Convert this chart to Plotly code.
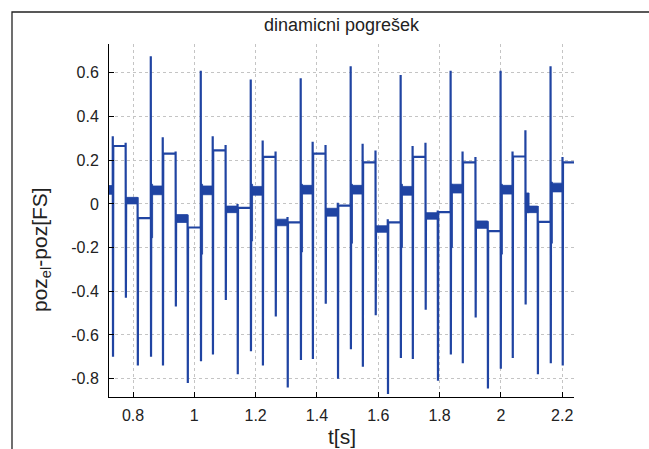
import plotly.graph_objects as go

# ---------------- data ----------------
# times of the switching edges [s]
t_edge = [0.734, 0.776, 0.815, 0.858, 0.897, 0.939, 0.978, 1.021, 1.060, 1.102,
          1.141, 1.184, 1.223, 1.265, 1.304, 1.347, 1.386, 1.428, 1.468, 1.510,
          1.549, 1.591, 1.631, 1.673, 1.712, 1.754, 1.794, 1.836, 1.875, 1.917,
          1.957, 1.999, 2.038, 2.080, 2.120, 2.162, 2.201]
# positive peak of the transient at each edge
spike_hi = [0.31, 0.28, 0.03, 0.676, 0.305, 0.24, -0.05, 0.61, 0.31, 0.27,
            0.0, 0.57, 0.29, 0.24, -0.06, 0.575, 0.285, 0.27, 0.005, 0.63,
            0.275, 0.245, -0.07, 0.59, 0.265, 0.28, -0.03, 0.61, 0.24, 0.215,
            -0.08, 0.61, 0.24, 0.337, -0.01, 0.63, 0.215]
# negative peak of the transient at each edge
spike_lo = [-0.70, -0.43, -0.74, -0.70, -0.74, -0.47, -0.82, -0.72, -0.69, -0.44,
            -0.78, -0.675, -0.74, -0.515, -0.84, -0.715, -0.71, -0.457, -0.80, -0.665,
            -0.745, -0.51, -0.87, -0.705, -0.71, -0.485, -0.81, -0.69, -0.73, -0.52,
            -0.845, -0.755, -0.705, -0.46, -0.78, -0.73, -0.74]
# settled error level after each edge
level = [0.265, 0.015, -0.065, 0.062, 0.23, -0.067, -0.108, 0.062, 0.245, -0.025,
         -0.018, 0.06, 0.215, -0.085, -0.085, 0.065, 0.23, -0.038, -0.008, 0.065,
         0.19, -0.115, -0.085, 0.06, 0.215, -0.055, -0.038, 0.07, 0.19, -0.095,
         -0.125, 0.065, 0.217, -0.025, -0.082, 0.075, 0.19]
# half width of the oscillation band around the level (0 = clean level)
band = [0, 0.015, 0, 0.02, 0, 0.018, 0, 0.02, 0, 0.015,
        0, 0.02, 0, 0.015, 0, 0.02, 0, 0.018, 0, 0.02,
        0, 0.015, 0, 0.02, 0, 0.015, 0, 0.02, 0, 0.017,
        0, 0.02, 0, 0.015, 0, 0.02, 0]
# short ringing burst right after an edge (None = none)
burst_hi = [None, None, None, 0.09, None, None, None, 0.09, None, None,
            None, 0.09, None, None, None, 0.09, None, None, None, 0.09,
            None, None, None, 0.09, None, None, None, 0.09, None, None,
            None, 0.09, None, 0.05, None, 0.1, None]
burst_lo = [None, None, None, -0.155, None, None, None, -0.23, None, None,
            None, -0.17, None, None, None, -0.22, None, None, None, -0.18,
            None, None, None, -0.2, None, None, None, -0.2, None, None,
            None, -0.23, None, -0.04, None, -0.18, None]
burst_dur = [0, 0, 0, 0.006, 0, 0, 0, 0.006, 0, 0,
             0, 0.006, 0, 0, 0, 0.006, 0, 0, 0, 0.006,
             0, 0, 0, 0.006, 0, 0, 0, 0.006, 0, 0,
             0, 0.006, 0, 0.012, 0, 0.006, 0]
level_start = 0.064
band_start = 0.02
t_range = [0.7217, 2.2385]
y_range = [-0.884, 0.732]

x_tickvals = [0.8, 1.0, 1.2, 1.4, 1.6, 1.8, 2.0, 2.2]
x_ticktext = ["0.8", "1", "1.2", "1.4", "1.6", "1.8", "2", "2.2"]
y_tickvals = [-0.8, -0.6, -0.4, -0.2, 0.0, 0.2, 0.4, 0.6]
y_ticktext = ["-0.8", "-0.6", "-0.4", "-0.2", "0", "0.2", "0.4", "0.6"]

title_text = "dinamicni pogrešek"
xlabel_text = "t[s]"
ylabel_text = "poz<sub>el</sub>-poz[FS]"

# ---------------- build the trace ----------------
BLUE = "#2044a2"
d = 0.0008
xs, ys = [t_range[0]], [level_start]
prev = level_start
for i, t in enumerate(t_edge):
    xs += [t, t, t + d, t + 2 * d]
    ys += [prev, spike_hi[i], spike_lo[i], level[i]]
    prev = level[i]
xs.append(t_range[1])
ys.append(prev)

bx, by = [], []
def rect(x0, x1, y0, y1):
    bx.extend([x0, x1, x1, x0, x0, None])
    by.extend([y0, y0, y1, y1, y0, None])

rect(t_range[0], t_edge[0], level_start - band_start, level_start + band_start)
for i, t in enumerate(t_edge):
    t_next = t_edge[i + 1] if i + 1 < len(t_edge) else t_range[1]
    if band[i] > 0:
        rect(t + 2 * d, t_next, level[i] - band[i], level[i] + band[i])
    if burst_lo[i] is not None:
        rect(t, t + burst_dur[i], burst_lo[i], burst_hi[i])

fig = go.Figure()
fig.add_trace(go.Scatter(x=bx, y=by, mode="lines", fill="toself",
                         fillcolor=BLUE, line=dict(color=BLUE, width=0.8),
                         hoverinfo="skip", showlegend=False))
fig.add_trace(go.Scatter(x=xs, y=ys, mode="lines",
                         line=dict(color=BLUE, width=2.2), showlegend=False))

W, H = 649, 449
ML, MR, MT, MB = 109, 75, 44, 52
PW, PH = W - ML - MR, H - MT - MB
def px(x):
    return (x - ML) / PW
def py(y):
    return (H - MB - y) / PH

FONT = "Liberation Sans, Arial, sans-serif"
axis_common = dict(showline=True, linecolor="black", linewidth=1,
                   ticks="inside", ticklen=5, tickcolor="black", tickwidth=1,
                   showgrid=True, gridcolor="#c4c4c4", griddash="dot", gridwidth=1,
                   zeroline=False, mirror=False,
                   tickfont=dict(family=FONT, size=16, color="#222"))

fig.update_layout(
    width=W, height=H,
    margin=dict(l=ML, r=MR, t=MT, b=MB),
    plot_bgcolor="white", paper_bgcolor="white",
    xaxis=dict(range=t_range, tickvals=x_tickvals, ticktext=x_ticktext,
               ticklabelstandoff=4, **axis_common),
    yaxis=dict(range=y_range, tickvals=y_tickvals, ticktext=y_ticktext,
               ticklabelstandoff=6, **axis_common),
    shapes=[dict(type="path", xref="paper", yref="paper",
                 path=f"M {px(12)},{py(460)} L {px(12)},{py(12)} L {px(660)},{py(12)}",
                 line=dict(color="#222", width=1.3))],
    annotations=[
        dict(text=title_text, xref="paper", yref="paper", x=px(342), y=py(25),
             showarrow=False, xanchor="center", yanchor="middle",
             font=dict(family=FONT, size=18, color="#222")),
        dict(text=xlabel_text, xref="paper", yref="paper", x=px(342), y=py(436),
             showarrow=False, xanchor="center", yanchor="middle",
             font=dict(family=FONT, size=21, color="#222")),
        dict(text=ylabel_text, xref="paper", yref="paper", x=px(41), y=py(250),
             showarrow=False, xanchor="center", yanchor="middle", textangle=-90,
             font=dict(family=FONT, size=21, color="#222")),
    ],
)

fig.write_html("out.html")
